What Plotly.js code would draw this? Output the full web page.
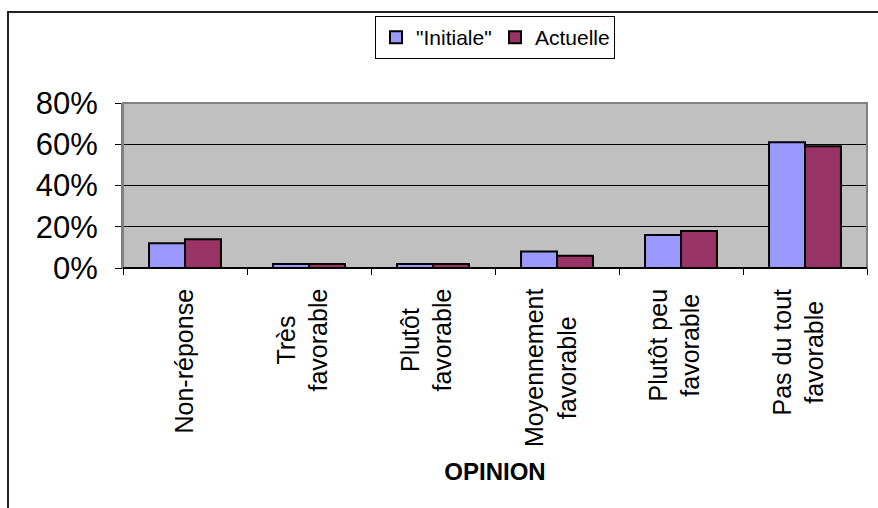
<!DOCTYPE html>
<html>
<head>
<meta charset="utf-8">
<script src="https://cdn.plot.ly/plotly-3.0.1.min.js"></script>
<style>
html,body{margin:0;padding:0;background:#fff;}
#wrap{position:relative;width:878px;height:508px;}
#chart{position:absolute;left:0;top:0;width:878px;height:508px;}
#frame{position:absolute;left:7px;top:11px;width:871px;height:497px;border-left:2px solid #222;border-top:2px solid #222;pointer-events:none;}
</style>
</head>
<body>
<div id="wrap"><div id="chart"></div><div id="frame"></div></div>
<script>
const categories = ["Non-réponse", "Très<br>favorable", "Plutôt<br>favorable", "Moyennement<br>favorable", "Plutôt peu<br>favorable", "Pas du tout<br>favorable"];
const initiale = [0.12, 0.02, 0.02, 0.08, 0.16, 0.61];
const actuelle = [0.14, 0.02, 0.02, 0.06, 0.18, 0.59];
const seriesNames = ['"Initiale"', 'Actuelle'];
const yTicks = [0, 0.2, 0.4, 0.6, 0.8];

const font = "Arial, 'Liberation Sans', sans-serif";
const traces = [
  {type:'bar', name: seriesNames[0], x: categories, y: initiale,
   marker:{color:'#9999FF', line:{color:'#000', width:2}}},
  {type:'bar', name: seriesNames[1], x: categories, y: actuelle,
   marker:{color:'#993366', line:{color:'#000', width:2}}}
];
const catLabels = categories.map(c => ({
  x: c, xref:'x', y: 0, yref:'paper', yanchor:'top', xanchor:'center',
  yshift: -19, xshift: c.includes('<br>') ? -7 : -2,
  textangle: -90, showarrow: false, align:'center',
  text: c, font:{size:25, family:font, color:'#000'}
}));
const layout = {
  width: 878, height: 508,
  margin: {l:123, r:11, t:103, b:240},
  paper_bgcolor: 'rgba(0,0,0,0)',
  plot_bgcolor: '#C0C0C0',
  barmode: 'group', bargap: 0.42, bargroupgap: 0,
  font: {family: font, color:'#000'},
  showlegend: true,
  legend: {orientation:'h', x:0.5, xanchor:'center', y:1.527, yanchor:'top',
           bgcolor:'#fff', bordercolor:'#000', borderwidth:1,
           font:{size:21, family:font}, itemwidth:30, entrywidth:74, entrywidthmode:'pixels'},
  xaxis: {type:'category', tickson:'boundaries', ticks:'outside', ticklen:6, tickcolor:'#000',
          showticklabels:false,
          showline:true, linecolor:'#000', linewidth:1, showgrid:false, automargin:false,
          title:{text:'<b>OPINION</b>', font:{size:24, family:font}, standoff:195}},
  yaxis: {range:[0,0.8], tickvals: yTicks, tickformat:'.0%', ticks:'outside', ticklen:6, tickcolor:'#000',
          tickfont:{size:31, family:font}, ticklabelstandoff:11, showgrid:true, gridcolor:'#000', gridwidth:1,
          showline:true, linecolor:'#808080', linewidth:2, zeroline:false, automargin:false},
  annotations: catLabels,
  shapes: [{type:'rect', xref:'paper', yref:'paper', x0:0, x1:1, y0:0, y1:1,
            line:{color:'#808080', width:2}, layer:'above'},
           {type:'line', xref:'paper', yref:'paper', x0:0, x1:1, y0:0, y1:0,
            line:{color:'#000', width:2}, layer:'above'}]
};
Plotly.newPlot('chart', traces, layout, {displayModeBar:false, staticPlot:true});
</script>
</body>
</html>
